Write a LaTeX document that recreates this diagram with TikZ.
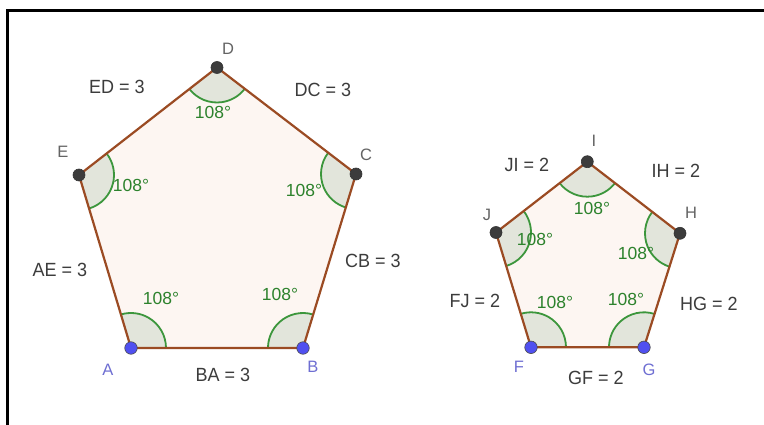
\documentclass[tikz,border=0pt]{standalone}
\usepackage{fontspec}
\setmainfont{Liberation Sans}
\usetikzlibrary{angles}
\definecolor{edgebrown}{RGB}{155,75,35}
\definecolor{polyfill}{RGB}{253,246,242}
\definecolor{sectfill}{RGB}{226,229,219}
\definecolor{arcgreen}{RGB}{60,150,60}
\definecolor{angtext}{RGB}{45,130,45}
\definecolor{sidetext}{RGB}{60,60,60}
\definecolor{vtext}{RGB}{100,100,100}
\definecolor{bluetext}{RGB}{110,110,210}
\definecolor{bluept}{RGB}{80,80,240}
\definecolor{darkpt}{RGB}{60,60,60}
\tikzset{
  sidelbl/.style={text=sidetext, font=\fontsize{18}{20}\selectfont, inner sep=0pt, yscale=1.06},
  anglbl/.style={text=angtext, font=\fontsize{17.5}{20}\selectfont, inner sep=0pt},
  vlbl/.style={text=vtext, font=\fontsize{16.5}{18}\selectfont, inner sep=0pt},
  blbl/.style={text=bluetext, font=\fontsize{16.5}{18}\selectfont, inner sep=0pt},
  dpt/.style={circle, fill=darkpt, draw=black!80, line width=0.6pt, minimum size=12pt, inner sep=0pt},
  bpt/.style={circle, fill=bluept, draw=black!70, line width=0.6pt, minimum size=12.5pt, inner sep=0pt},
  sector/.style={draw=arcgreen, fill=sectfill, line width=1.8pt, angle radius=35pt},
  edge/.style={draw=edgebrown, line width=2.2pt, line join=round},
}
\begin{document}
\begin{tikzpicture}[x=1pt,y=-1pt]
\useasboundingbox (0,0) rectangle (764,425);
\fill[white] (0,0) rectangle (764,425);
\draw[line width=3pt, line cap=rect] (7.7,425) -- (7.7,10.3) -- (764,10.3);

% large pentagon
\coordinate (A) at (131,348);
\coordinate (B) at (303,348);
\coordinate (C) at (356,174);
\coordinate (D) at (217,67.5);
\coordinate (E) at (79,175);
% small pentagon
\coordinate (F) at (531,347.3);
\coordinate (G) at (644,347.3);
\coordinate (H) at (680,233.3);
\coordinate (I) at (587.3,161.7);
\coordinate (J) at (496,232.5);

\fill[polyfill] (A) -- (B) -- (C) -- (D) -- (E) -- cycle;
\fill[polyfill] (F) -- (G) -- (H) -- (I) -- (J) -- cycle;

\pic[sector] {angle = B--A--E};
\pic[sector] {angle = C--B--A};
\pic[sector] {angle = D--C--B};
\pic[sector] {angle = E--D--C};
\pic[sector] {angle = A--E--D};
\pic[sector] {angle = G--F--J};
\pic[sector] {angle = H--G--F};
\pic[sector] {angle = I--H--G};
\pic[sector] {angle = J--I--H};
\pic[sector] {angle = F--J--I};

\draw[edge] (A) -- (B) -- (C) -- (D) -- (E) -- cycle;
\draw[edge] (F) -- (G) -- (H) -- (I) -- (J) -- cycle;

% points
\node[bpt] (pA) at (A) {};
\node[bpt] (pB) at (B) {};
\node[dpt] (pC) at (C) {};
\node[dpt] (pD) at (D) {};
\node[dpt] (pE) at (E) {};
\node[bpt] (pF) at (F) {};
\node[bpt] (pG) at (G) {};
\node[dpt] (pH) at (H) {};
\node[dpt] (pI) at (I) {};
\node[dpt] (pJ) at (J) {};

% vertex labels
\node[blbl] (lA) at (108,370) {A};
\node[blbl] (lB) at (313,367) {B};
\node[vlbl] (lC) at (366,155) {C};
\node[vlbl] (lD) at (228,49) {D};
\node[vlbl] (lE) at (63,152) {E};
\node[blbl] (lF) at (519,367) {F};
\node[blbl] (lG) at (649,370) {G};
\node[vlbl] (lH) at (691,213) {H};
\node[vlbl] (lI) at (594,141) {I};
\node[vlbl] (lJ) at (487,215) {J};

% angle labels
\node[anglbl] (aA) at (161,298) {108°};
\node[anglbl] (aB) at (280,294) {108°};
\node[anglbl] (aC) at (304,190) {108°};
\node[anglbl] (aD) at (213,112) {108°};
\node[anglbl] (aE) at (131,185) {108°};
\node[anglbl] (aF) at (555,302) {108°};
\node[anglbl] (aG) at (626,299) {108°};
\node[anglbl] (aH) at (636,253) {108°};
\node[anglbl] (aI) at (592,208) {108°};
\node[anglbl] (aJ) at (535,239) {108°};

% side labels
\node[sidelbl] (sED) at (117,87) {ED = 3};
\node[sidelbl] (sDC) at (323,90) {DC = 3};
\node[sidelbl] (sAE) at (60,270) {AE = 3};
\node[sidelbl] (sCB) at (373,261) {CB = 3};
\node[sidelbl] (sBA) at (223,375) {BA = 3};
\node[sidelbl] (sJI) at (527,165) {JI = 2};
\node[sidelbl] (sIH) at (676,171) {IH = 2};
\node[sidelbl] (sFJ) at (475,301) {FJ = 2};
\node[sidelbl] (sHG) at (709,304) {HG = 2};
\node[sidelbl] (sGF) at (596,378) {GF = 2};
\end{tikzpicture}
\end{document}
